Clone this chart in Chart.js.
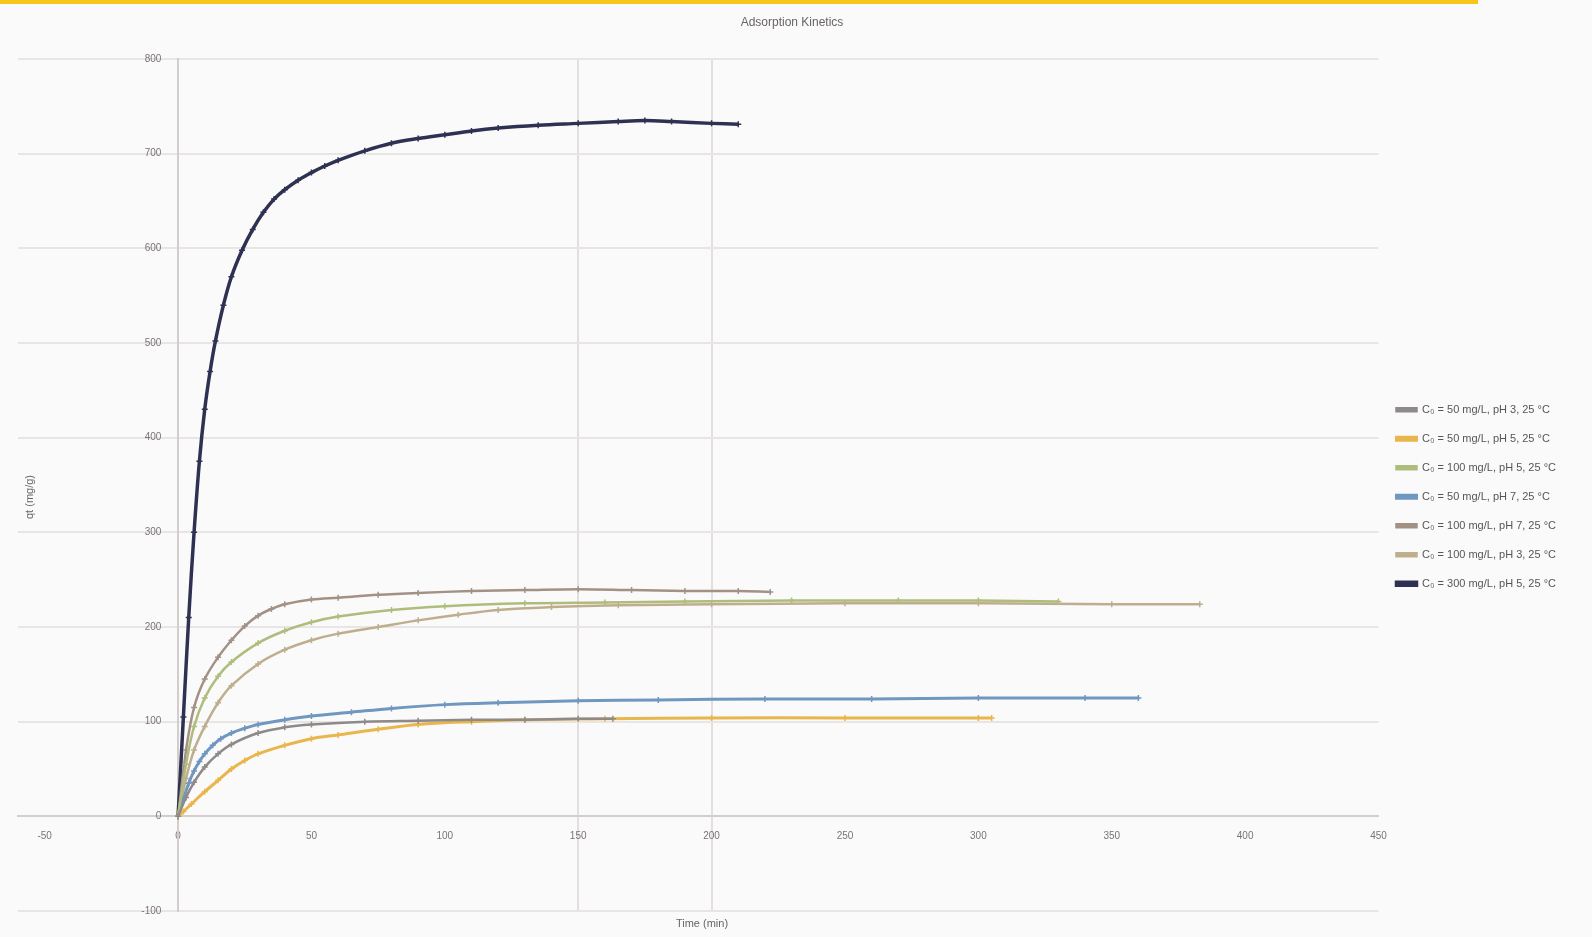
<!DOCTYPE html>
<html>
<head>
<meta charset="utf-8">
<script src="https://cdn.jsdelivr.net/npm/chart.js@4/dist/chart.umd.min.js"></script>
<style>
  html, body { margin: 0; padding: 0; background: #fafafa; }
  #wrap { position: relative; width: 1592px; height: 937px; }
  #topbar { position: absolute; left: 0; top: 0; width: 1478px; height: 4px; background: #f6c619; }
</style>
</head>
<body>
<div id="wrap">
  <div id="topbar"></div>
  <canvas id="chart" width="1592" height="937"></canvas>
</div>
<script>
// values
const xTicks = [-50, 0, 50, 100, 150, 200, 250, 300, 350, 400, 450];
const yTicks = [-100, 0, 100, 200, 300, 400, 500, 600, 700, 800];

const labels = [
  'C₀ = 50 mg/L, pH 3, 25 °C',
  'C₀ = 50 mg/L, pH 5, 25 °C',
  'C₀ = 100 mg/L, pH 5, 25 °C',
  'C₀ = 50 mg/L, pH 7, 25 °C',
  'C₀ = 100 mg/L, pH 7, 25 °C',
  'C₀ = 100 mg/L, pH 3, 25 °C',
  'C₀ = 300 mg/L, pH 5, 25 °C'
];

const s1x = [0, 3, 6, 10, 15, 20, 30, 40, 50, 70, 90, 110, 130, 150, 163];
const s1y = [0, 20, 36, 52, 66, 76, 88, 94, 97, 100, 101, 102, 102, 103, 103];

const s2x = [0, 2, 5, 10, 15, 20, 25, 30, 40, 50, 60, 75, 90, 110, 130, 160, 200, 250, 300, 305];
const s2y = [0, 5, 13, 26, 38, 50, 59, 66, 75, 82, 86, 92, 97, 100, 102, 103, 104, 104, 104, 104];

const s3x = [0, 3, 6, 10, 15, 20, 30, 40, 50, 60, 80, 100, 130, 160, 190, 230, 270, 300, 330];
const s3y = [0, 55, 95, 125, 148, 163, 183, 196, 205, 211, 218, 222, 225, 226, 227, 228, 228, 228, 227];

const s4x = [0, 2, 4, 6, 8, 10, 13, 16, 20, 25, 30, 40, 50, 65, 80, 100, 120, 150, 180, 220, 260, 300, 340, 360];
const s4y = [0, 18, 35, 48, 58, 66, 75, 82, 88, 93, 97, 102, 106, 110, 114, 118, 120, 122, 123, 124, 124, 125, 125, 125];

const s5x = [0, 3, 6, 10, 15, 20, 25, 30, 35, 40, 50, 60, 75, 90, 110, 130, 150, 170, 190, 210, 222];
const s5y = [0, 70, 115, 145, 168, 186, 201, 212, 219, 224, 229, 231, 234, 236, 238, 239, 240, 239, 238, 238, 237];

const s6x = [0, 3, 6, 10, 15, 20, 30, 40, 50, 60, 75, 90, 105, 120, 140, 165, 200, 250, 300, 350, 383];
const s6y = [0, 40, 70, 95, 120, 138, 161, 176, 186, 193, 200, 207, 213, 218, 221, 223, 224, 225, 225, 224, 224];

const s7x = [0, 2, 4, 6, 8, 10, 12, 14, 17, 20, 24, 28, 32, 36, 40, 45, 50, 55, 60, 70, 80, 90, 100, 110, 120, 135, 150, 165, 175, 185, 200, 210];
const s7y = [0, 105, 210, 300, 375, 430, 470, 502, 540, 570, 598, 620, 638, 652, 662, 672, 680, 687, 693, 703, 711, 716, 720, 724, 727, 730, 732, 734, 735, 734, 732, 731];

const colors = ['#8f8a8a', '#e8b64c', '#aebd7c', '#6f97bf', '#a39186', '#bfae8e', '#2f3152'];
const widths = [2.5, 3, 2.5, 3, 2.5, 2.5, 3.5];

function pts(xs, ys) {
  return xs.map((x, i) => ({ x, y: ys[i] }));
}

const series = [[s1x, s1y], [s2x, s2y], [s3x, s3y], [s4x, s4y], [s5x, s5y], [s6x, s6y], [s7x, s7y]];

const datasets = series.map(([xs, ys], i) => ({
  label: labels[i],
  data: pts(xs, ys),
  borderColor: colors[i],
  backgroundColor: colors[i],
  borderWidth: widths[i],
  pointStyle: 'cross',
  pointRadius: 3,
  pointBorderWidth: 1.5,
  tension: 0.35,
  fill: false
}));

// axis titles sit far from the centred axes, so they are drawn here
const axisTitles = {
  id: 'axisTitles',
  afterDraw(chart) {
    const { ctx } = chart;
    ctx.save();
    ctx.fillStyle = '#6a6464';
    ctx.font = '11px "Liberation Sans", Arial, sans-serif';
    ctx.textAlign = 'center';
    ctx.textBaseline = 'middle';
    ctx.fillText('Time (min)', 702, 924);
    ctx.translate(30, 497);
    ctx.rotate(-Math.PI / 2);
    ctx.fillText('qt (mg/g)', 0, 0);
    ctx.restore();
  }
};

const pad = '      ';

new Chart(document.getElementById('chart'), {
  type: 'line',
  data: { datasets },
  plugins: [axisTitles],
  options: {
    responsive: false,
    animation: false,
    layout: { padding: { left: 18, right: 26, top: 0, bottom: 26 } },
    plugins: {
      title: {
        display: true,
        text: 'Adsorption Kinetics',
        color: '#6a6464',
        font: { size: 12, weight: 'normal', family: '"Liberation Sans", Arial, sans-serif' },
        padding: { top: 15, bottom: 29.6 }
      },
      legend: {
        position: 'right',
        title: { display: true, text: '', padding: { top: 34, bottom: 34 } },
        labels: {
          boxWidth: 20,
          boxHeight: 3,
          padding: 18,
          color: '#5a5555',
          font: { size: 11, family: '"Liberation Sans", Arial, sans-serif' }
        }
      },
      tooltip: { enabled: false }
    },
    scales: {
      x: {
        type: 'linear',
        position: { y: 0 },
        min: -60,
        max: 450,
        afterBuildTicks: axis => { axis.ticks = xTicks.map(v => ({ value: v })); },
        grid: {
          color: c => (c.tick && (c.tick.value === 150 || c.tick.value === 200)) ? '#e3dfdf' : 'rgba(0,0,0,0)',
          lineWidth: 2,
          drawTicks: false
        },
        border: { color: '#d3cdcd', width: 2 },
        ticks: {
          color: '#7a7474',
          padding: 14,
          font: { size: 10, family: '"Liberation Sans", Arial, sans-serif' }
        }
      },
      y: {
        type: 'linear',
        position: { x: 0 },
        min: -100,
        max: 800,
        afterBuildTicks: axis => { axis.ticks = yTicks.map(v => ({ value: v })); },
        grid: {
          color: c => (c.tick && c.tick.value === 0) ? 'rgba(0,0,0,0)' : '#e9e5e5',
          lineWidth: 2,
          drawTicks: false
        },
        border: { color: '#d3cdcd', width: 2 },
        ticks: {
          color: '#7a7474',
          font: { size: 10, family: '"Liberation Sans", Arial, sans-serif' },
          callback: v => v + pad
        }
      }
    }
  }
});
</script>
</body>
</html>
